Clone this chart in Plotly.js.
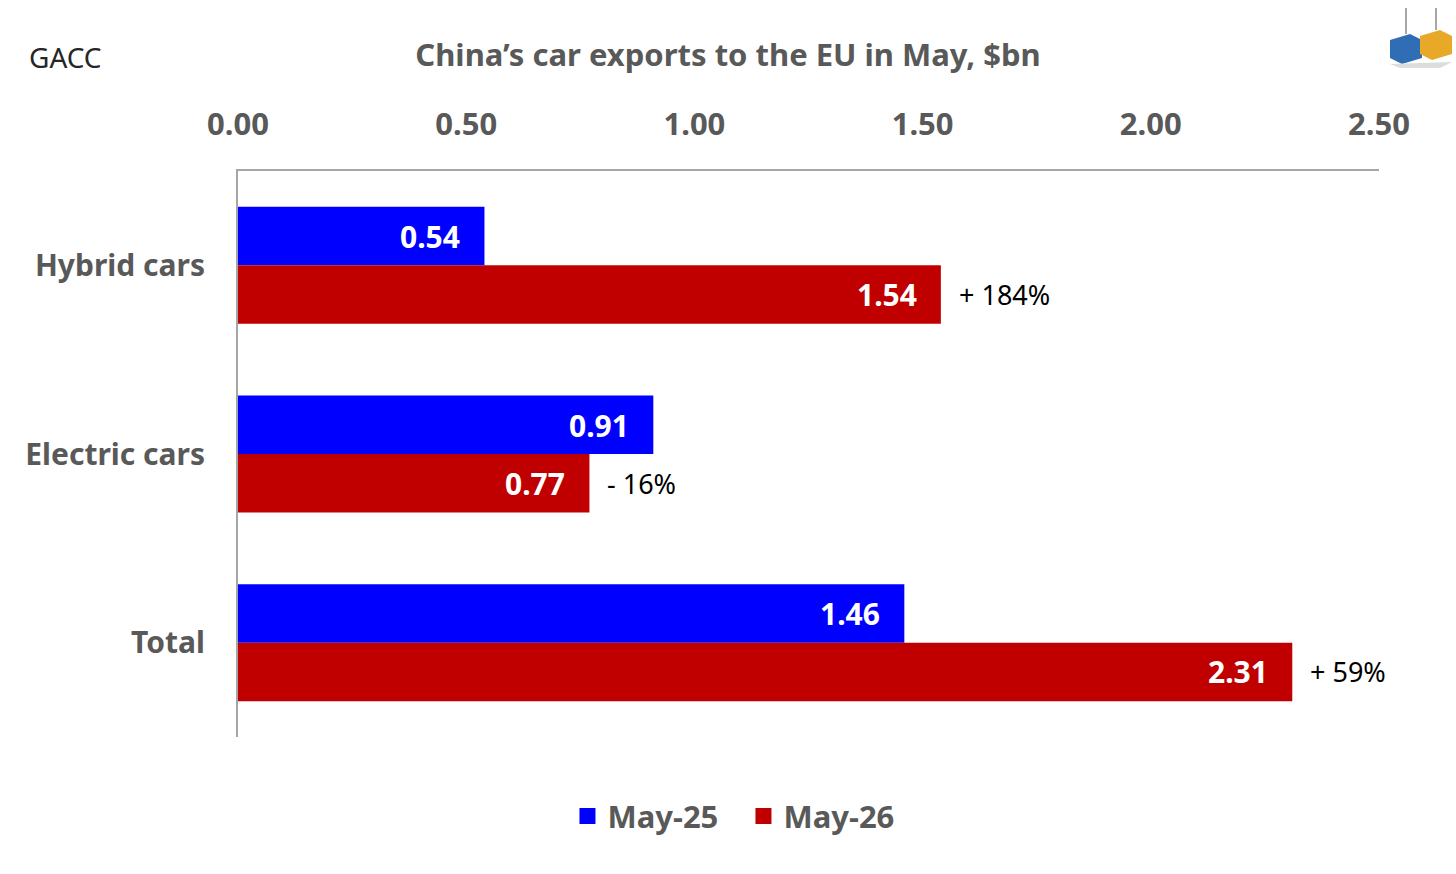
<!DOCTYPE html>
<html>
<head>
<meta charset="utf-8">
<script src="https://cdn.plot.ly/plotly-3.0.1.min.js"></script>
<style>html,body{margin:0;padding:0;background:#fff;}#chart{width:1456px;height:874px;}</style>
</head>
<body>
<div id="chart"></div>
<script>
const categories = ["Hybrid cars", "Electric cars", "Total"];
const may25 = [0.54, 0.91, 1.46];
const may26 = [1.54, 0.77, 2.31];
const changeLabels = ["+ 184%", "- 16%", "+ 59%"];
const seriesNames = ["May-25", "May-26"];
const tickVals = [0, 0.5, 1, 1.5, 2, 2.5];

const FONT = "Noto Sans, Open Sans, sans-serif";
const GRAY = "#595959";
const BLUE = "#0000FF";
const RED = "#C00000";

const traces = [
  {type: "bar", orientation: "h", name: seriesNames[0], y: categories, x: may25,
   marker: {color: BLUE}, hoverinfo: "x", showlegend: false, legendgroup: "a"},
  {type: "bar", orientation: "h", name: seriesNames[1], y: categories, x: may26,
   marker: {color: RED}, hoverinfo: "x", showlegend: false, legendgroup: "b"},
  // legend entries with larger square keys
  {type: "scatter", mode: "markers", name: seriesNames[0], x: [null], y: [null],
   marker: {symbol: "square", size: 20, color: BLUE}, legendgroup: "a", hoverinfo: "skip"},
  {type: "scatter", mode: "markers", name: seriesNames[1], x: [null], y: [null],
   marker: {symbol: "square", size: 20, color: RED}, legendgroup: "b", hoverinfo: "skip"}
];

const annotations = [];
categories.forEach((c, i) => {
  annotations.push({x: may25[i], y: c, xref: "x", yref: "y", text: "<b>" + may25[i].toFixed(2) + "</b>",
    showarrow: false, xanchor: "right", yanchor: "middle", xshift: -22, yshift: 29,
    font: {family: FONT, size: 30, color: "#FFFFFF"}});
  annotations.push({x: may26[i], y: c, xref: "x", yref: "y", text: "<b>" + may26[i].toFixed(2) + "</b>",
    showarrow: false, xanchor: "right", yanchor: "middle", xshift: -22, yshift: -29,
    font: {family: FONT, size: 30, color: "#FFFFFF"}});
  annotations.push({x: may26[i], y: c, xref: "x", yref: "y", text: changeLabels[i],
    showarrow: false, xanchor: "left", yanchor: "middle", xshift: 16, yshift: -29,
    font: {family: FONT, size: 27, color: "#000000"}});
});
annotations.push({x: -0.1849, y: 1.2014, xref: "paper", yref: "paper", text: "GACC",
  showarrow: false, xanchor: "left", yanchor: "middle",
  font: {family: FONT, size: 28, color: "#262626"}});

// small logo (two containers)
function px(x){return (x-238)/1141;}
function py(y){return (737-y)/566;}
const shapes = [
  {type: "path", xref: "paper", yref: "paper",
   path: `M${px(1390)},${py(40)} L${px(1410)},${py(34)} L${px(1422)},${py(40)} L${px(1422)},${py(58)} L${px(1402)},${py(64)} L${px(1390)},${py(58)} Z`,
   fillcolor: "#2F6DB5", line: {width: 0}},
  {type: "path", xref: "paper", yref: "paper",
   path: `M${px(1420)},${py(36)} L${px(1440)},${py(30)} L${px(1452)},${py(36)} L${px(1452)},${py(54)} L${px(1432)},${py(60)} L${px(1420)},${py(54)} Z`,
   fillcolor: "#E8A828", line: {width: 0}},
  {type: "line", xref: "paper", yref: "paper", x0: px(1406), x1: px(1406), y0: py(8), y1: py(34),
   line: {color: "#8a8a8a", width: 1.5}},
  {type: "line", xref: "paper", yref: "paper", x0: px(1436), x1: px(1436), y0: py(8), y1: py(30),
   line: {color: "#8a8a8a", width: 1.5}},
  {type: "path", xref: "paper", yref: "paper",
   path: `M${px(1390)},${py(64)} L${px(1452)},${py(62)} L${px(1440)},${py(68)} L${px(1400)},${py(68)} Z`,
   fillcolor: "#dcdcdc", line: {width: 0}}
];

const layout = {
  width: 1456, height: 874,
  margin: {l: 238, r: 77, t: 171, b: 137, pad: 0},
  paper_bgcolor: "#FFFFFF", plot_bgcolor: "#FFFFFF",
  font: {family: FONT, color: GRAY},
  title: {text: "<b>China’s car exports to the EU in May, $bn</b>", x: 0.5, xref: "container",
    y: 1 - 55/874, yref: "container", yanchor: "middle", xanchor: "center",
    font: {family: FONT, size: 31, color: GRAY}},
  barmode: "group", bargap: 0.38, bargroupgap: 0,
  xaxis: {side: "top", range: [0, 2.5], tickvals: tickVals, tickformat: ".2f",
    showgrid: false, zeroline: false, showline: true, linecolor: "#A6A6A6", linewidth: 2,
    ticks: "", ticklabelstandoff: 22,
    tickfont: {family: FONT, size: 31, color: GRAY, weight: "bold"}, fixedrange: true},
  yaxis: {autorange: "reversed", type: "category", showgrid: false, zeroline: false,
    showline: true, linecolor: "#A6A6A6", linewidth: 2, ticks: "", ticklabelstandoff: 25,
    tickfont: {family: FONT, size: 30, color: GRAY, weight: "bold"}, fixedrange: true},
  legend: {orientation: "h", x: 0.443, xanchor: "center", y: -0.14, yanchor: "middle",
    font: {family: FONT, size: 31, color: GRAY, weight: "bold"}, itemclick: false,
    itemwidth: 30, tracegroupgap: 0, entrywidth: 131},
  annotations: annotations,
  shapes: shapes,
  showlegend: true
};

Plotly.newPlot("chart", traces, layout, {displayModeBar: false, staticPlot: true});
</script>
</body>
</html>
